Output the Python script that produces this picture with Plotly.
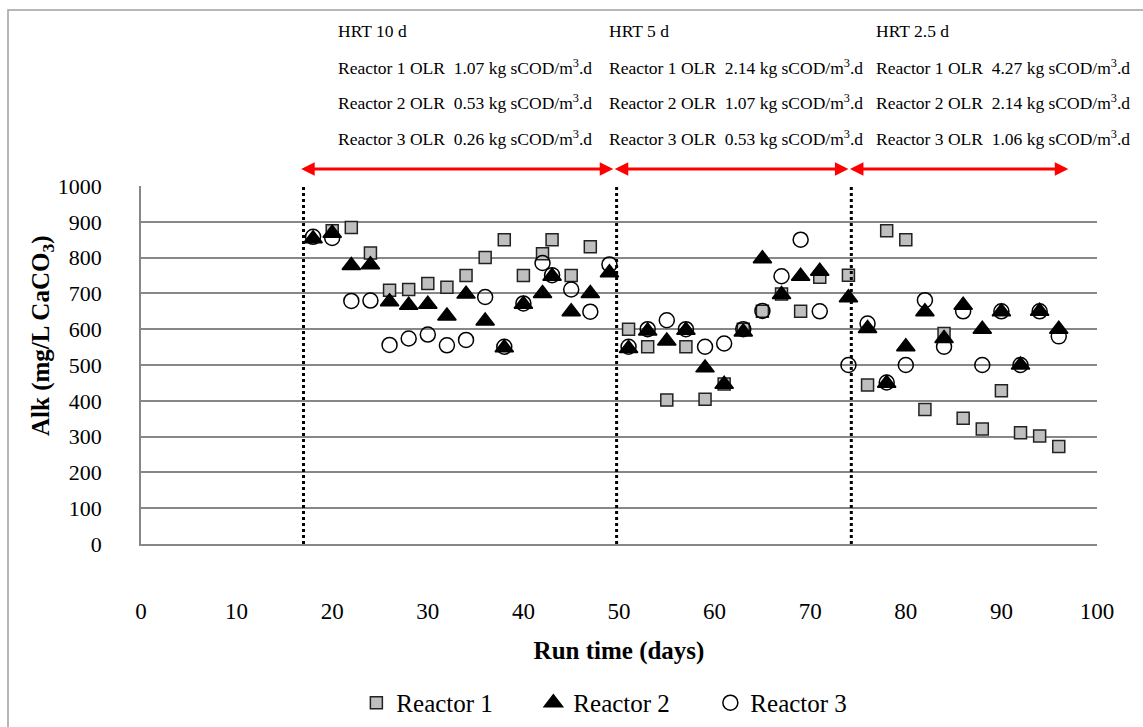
import plotly.graph_objects as go

# Alkalinity measurements (mg/L as CaCO3) per reactor over the run
r1_days = [20, 22, 24, 26, 28, 30, 32, 34, 36, 38, 40, 42, 43, 45, 47,
           51, 53, 55, 57, 59, 61, 63, 65, 67, 69, 71, 74,
           76, 78, 80, 82, 84, 86, 88, 90, 92, 94, 96]
r1_alk = [875, 884, 813, 709, 711, 728, 717, 750, 800, 850, 750, 811, 850, 750, 830,
          600, 551, 402, 551, 404, 447, 600, 650, 698, 650, 745, 751,
          444, 875, 850, 376, 588, 351, 321, 428, 311, 302, 272]

r2_days = [18, 20, 22, 24, 26, 28, 30, 32, 34, 36, 38, 40, 42, 43, 45, 47, 49,
           51, 53, 55, 57, 59, 61, 63, 65, 67, 69, 71, 74,
           76, 78, 80, 82, 84, 86, 88, 90, 92, 94, 96]
r2_alk = [853, 868, 778, 780, 677, 667, 670, 637, 698, 623, 548, 670, 700, 748, 649, 700, 758,
          546, 595, 567, 597, 492, 446, 592, 797, 697, 748, 762, 688,
          602, 449, 551, 649, 574, 667, 600, 649, 500, 650, 600]

r3_days = [18, 20, 22, 24, 26, 28, 30, 32, 34, 36, 38, 40, 42, 43, 45, 47, 49,
           51, 53, 55, 57, 59, 61, 63, 65, 67, 69, 71, 74,
           76, 78, 80, 82, 84, 86, 88, 90, 92, 94, 96]
r3_alk = [858, 855, 679, 680, 556, 574, 585, 555, 570, 690, 551, 672, 785, 751, 711, 649, 781,
          551, 600, 625, 600, 551, 560, 600, 651, 748, 850, 650, 500,
          616, 451, 500, 681, 551, 650, 500, 650, 500, 650, 580]

# Operating phases: HRT change days and the span of each phase
phase_changes = [17, 49.75, 74.3]
phase_spans = [(16.6, 49.4), (49.4, 74.0), (74.0, 97.0)]
phase_hrt = ["HRT 10 d", "HRT 5 d", "HRT 2.5 d"]
phase_olr = [["1.07", "0.53", "0.26"],
             ["2.14", "1.07", "0.53"],
             ["4.27", "2.14", "1.06"]]

SERIF = "Liberation Serif, Times New Roman, serif"

fig = go.Figure()
fig.add_trace(go.Scatter(
    x=r1_days, y=r1_alk, mode="markers", name="Reactor 1",
    marker=dict(symbol="square", size=12, color="#bfbfbf",
                line=dict(color="#222222", width=1.5))))
fig.add_trace(go.Scatter(
    x=r2_days, y=r2_alk, mode="markers", name="Reactor 2",
    marker=dict(symbol="triangle-up", size=16, color="black",
                line=dict(color="black", width=1.5))))
fig.add_trace(go.Scatter(
    x=r3_days, y=r3_alk, mode="markers", name="Reactor 3",
    marker=dict(symbol="circle-open", size=15, color="black",
                line=dict(color="black", width=1.5))))

shapes = []
for d in phase_changes:
    shapes.append(dict(type="line", xref="x", yref="y", x0=d, x1=d, y0=0, y1=1000,
                       line=dict(color="black", width=3, dash="dot")))
# outer chart border
shapes.append(dict(type="rect", xref="paper", yref="paper",
                   x0=(8 - 141) / 956, x1=(1150 - 141) / 956,
                   y0=(544 - 740) / 358, y1=(544 - 10) / 358,
                   line=dict(color="#a0a0a0", width=1.5), layer="below"))

annotations = []
col_x = [0.204, 0.4875, 0.767]
row_y = [1.433, 1.332, 1.2345, 1.134]
for i in range(3):
    annotations.append(dict(xref="paper", yref="paper", x=col_x[i], y=row_y[0],
                            text=phase_hrt[i], showarrow=False,
                            xanchor="left", yanchor="middle",
                            font=dict(family=SERIF, size=17.5, color="black")))
    for j in range(3):
        txt = f"Reactor {j + 1} OLR  {phase_olr[i][j]} kg sCOD/m<sup>3</sup>.d"
        annotations.append(dict(xref="paper", yref="paper", x=col_x[i], y=row_y[j + 1],
                                text=txt, showarrow=False,
                                xanchor="left", yanchor="middle",
                                font=dict(family=SERIF, size=17.5, color="black")))
    a, b = phase_spans[i]
    annotations.append(dict(xref="x", yref="paper", x=b, y=1.0475,
                            axref="x", ayref="pixel", ax=a, ay=0,
                            text="", showarrow=True, arrowside="end+start",
                            arrowhead=2, arrowsize=0.9, arrowwidth=3,
                            arrowcolor="#ff0000", standoff=0, startstandoff=0))

# y-axis title
annotations.append(dict(xref="paper", yref="paper", x=-0.1036, y=0.581,
                        text="<b>Alk (mg/L CaCO<sub>3</sub>)</b>", showarrow=False,
                        textangle=-90, xanchor="center", yanchor="middle",
                        font=dict(family=SERIF, size=25, color="black")))

fig.update_layout(
    width=1143, height=727,
    margin=dict(l=141, r=46, t=186, b=183, autoexpand=False),
    paper_bgcolor="white", plot_bgcolor="white",
    font=dict(family=SERIF, color="black"),
    showlegend=True,
    legend=dict(orientation="h", x=0.503, y=-0.444, xanchor="center", yanchor="middle",
                entrywidth=132, entrywidthmode="pixels",
                font=dict(family=SERIF, size=25, color="black")),
    shapes=shapes, annotations=annotations,
    xaxis=dict(range=[0, 100], dtick=10, tick0=0, showgrid=False, zeroline=False,
               showline=True, linecolor="#878787", linewidth=1.5, automargin=False,
               ticks="", ticklabelstandoff=46,
               tickfont=dict(family=SERIF, size=23, color="black"),
               title=dict(text="<b>Run time (days)</b>", standoff=18,
                          font=dict(family=SERIF, size=25, color="black"))),
    yaxis=dict(range=[0, 1000], dtick=100, tick0=0, showgrid=True,
               gridcolor="#878787", gridwidth=1.5, zeroline=False,
               showline=True, linecolor="#878787", linewidth=1.5, automargin=False,
               ticks="", ticklabelstandoff=33,
               tickfont=dict(family=SERIF, size=22, color="black")),
)

fig.write_html("out.html")
